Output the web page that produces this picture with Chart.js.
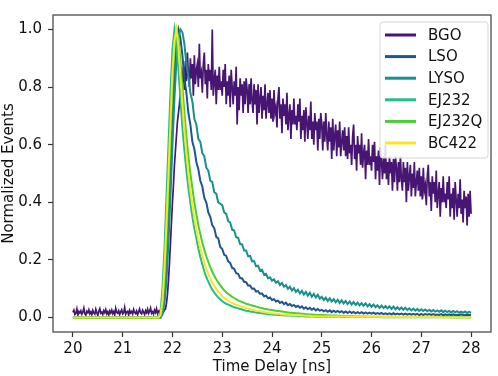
<!DOCTYPE html>
<html>
<head>
<meta charset="utf-8">
<script src="https://cdn.jsdelivr.net/npm/chart.js@4.4.1/dist/chart.umd.min.js"></script>
<style>
  html, body { margin: 0; padding: 0; background: #fff; }
  #wrap { width: 498px; height: 376px; }
</style>
</head>
<body>
<div id="wrap"><canvas id="decayChart"></canvas></div>
<script>
// time axes: 20 ns to 28 ns. BGO is sampled every 0.02 ns, the others every 0.04 ns
const times = Array.from({ length: 201 }, (_, i) => +(20 + i * 0.04).toFixed(2));
const bgoTimes = Array.from({ length: 401 }, (_, i) => +(20 + i * 0.02).toFixed(2));

const xTicks = [20, 21, 22, 23, 24, 25, 26, 27, 28];
const yTicks = [0, 0.2, 0.4, 0.6, 0.8, 1.0];

const labels = ['BGO', 'LSO', 'LYSO', 'EJ232', 'EJ232Q', 'BC422'];
const colors = ['#471672', '#1f5591', '#18908e', '#1fbf8a', '#45d035', '#fde41c'];

const bgo = [
  // 20.00 - 21.84 baseline
  .018,.026,.011,.015,.03,.009,.021,.016,.024,.012,.019,.033,.014,.008,.022,.017,.027,.013,.02,.01,
  .025,.016,.012,.029,.018,.007,.022,.031,.015,.019,.011,.024,.017,.028,.013,.02,.009,.023,.016,.026,
  .014,.021,.01,.032,.018,.015,.024,.011,.02,.027,.013,.017,.035,.012,.019,.022,.009,.025,.016,.021,
  .012,.028,.018,.014,.023,.01,.02,.03,.016,.013,.026,.019,.011,.024,.017,.029,.014,.021,.033,.015,
  .02,.012,.026,.018,.031,.014,.022,.017,.028,.013,.024,.019,.027,
  // 21.86 - 22.20 rise
  .03,.05,.08,.13,.19,.26,.33,.40,.46,.53,.58,.63,.68,.71,.74,.79,.76,.83,
  // 22.22 - 22.48
  .87,.79,.89,.82,.92,.84,.80,.90,.83,.88,.77,.91,.81,.86,
  // 22.50 - 22.98
  .88,.80,.95,.83,.85,.78,.88,.92,.81,.86,.76,.88,.82,.86,.79,1.00,.77,.82,.86,.74,.84,.79,.87,.79,.82,
  // 23.00 - 23.48
  .77,.86,.80,.88,.74,.82,.77,.84,.73,.86,.80,.74,.82,.77,.87,.67,.80,.72,.83,.77,.81,.71,.82,.74,.83,
  // 23.50 - 23.98
  .79,.71,.81,.74,.83,.75,.71,.81,.74,.79,.67,.81,.71,.76,.80,.69,.77,.72,.81,.69,.74,.78,.71,.79,.69,
  // 24.00 - 24.48
  .76,.68,.79,.71,.73,.66,.76,.80,.69,.74,.64,.76,.70,.74,.67,.78,.65,.70,.74,.62,.72,.67,.76,.67,.70,
  // 24.50 - 24.98
  .65,.74,.68,.76,.62,.70,.65,.72,.61,.73,.68,.62,.70,.65,.75,.62,.68,.60,.71,.65,.68,.58,.69,.62,.71,
  // 25.00 - 25.48
  .67,.58,.68,.61,.71,.63,.58,.68,.61,.66,.55,.69,.58,.63,.67,.56,.65,.59,.68,.56,.61,.65,.58,.66,.56,
  // 25.50 - 25.98
  .63,.55,.66,.57,.60,.53,.63,.67,.55,.60,.51,.63,.57,.60,.53,.64,.52,.57,.60,.48,.58,.53,.62,.53,.56,
  // 26.00 - 26.48
  .51,.60,.54,.61,.48,.56,.51,.58,.46,.59,.54,.48,.56,.50,.60,.48,.54,.46,.56,.50,.54,.44,.55,.47,.56,
  // 26.50 - 26.98
  .52,.44,.54,.47,.56,.48,.44,.54,.47,.52,.40,.54,.44,.49,.53,.42,.50,.45,.54,.42,.47,.51,.44,.52,.42,
  // 27.00 - 27.48
  .49,.41,.52,.44,.46,.39,.49,.53,.42,.47,.37,.49,.43,.47,.40,.51,.38,.43,.47,.35,.45,.40,.49,.40,.43,
  // 27.50 - 28.00
  .38,.47,.41,.49,.35,.43,.38,.45,.34,.47,.41,.35,.43,.38,.48,.36,.41,.33,.44,.38,.42,.32,.43,.35,.44,.36
];

const lso = [
  0,0,0,0,0,0,0,0,0,0,0,0,0,0,0,0,0,0,0,0,0,0,0,0,0,
  0,0,0,0,0,0,0,0,0,0,0,0,0,0,0,0,0,0,0,0,0.02,0.08,0.19,0.34,0.52,
  0.70,0.85,0.96,1.00,0.97,0.91,0.83,0.78,0.71,0.67,0.61,0.585,0.54,0.515,0.475,0.455,0.415,0.40,0.365,0.35,0.32,0.31,0.28,0.275,0.245,
  0.238,0.218,0.214,0.195,0.19,0.172,0.169,0.154,0.152,0.137,0.136,0.124,0.123,0.111,0.111,0.10,0.101,0.09,0.092,0.082,0.084,0.074,0.076,0.067,0.07,
  0.061,0.064,0.056,0.059,0.051,0.055,0.047,0.052,0.043,0.047,0.04,0.044,0.037,0.041,0.034,0.039,0.031,0.036,0.029,0.034,0.027,0.032,0.025,0.03,0.024,
  0.027,0.022,0.026,0.02,0.025,0.019,0.024,0.019,0.023,0.018,0.022,0.017,0.021,0.016,0.021,0.016,0.02,0.015,0.019,0.015,0.019,0.014,0.018,0.014,0.017,
  0.014,0.017,0.013,0.016,0.013,0.016,0.012,0.015,0.012,0.015,0.011,0.015,0.011,0.014,0.011,0.014,0.01,0.014,0.01,0.013,0.01,0.013,0.01,0.013,0.009,
  0.013,0.009,0.012,0.01,0.012,0.009,0.012,0.009,0.011,0.009,0.012,0.008,0.011,0.009,0.011,0.008,0.011,0.009,0.01,0.008,0.011,0.008,0.01,0.009,0.01,
  0.009
];

const lyso = [
  0,0,0,0,0,0,0,0,0,0,0,0,0,0,0,0,0,0,0,0,0,0,0,0,0,
  0,0,0,0,0,0,0,0,0,0,0,0,0,0,0,0,0,0,0,0,0.01,0.05,0.13,0.26,0.42,
  0.60,0.76,0.89,0.97,1.00,0.99,0.95,0.88,0.84,0.78,0.75,0.69,0.67,0.62,0.61,0.57,0.56,0.52,0.51,0.475,0.47,0.435,0.43,0.40,0.395,
  0.39,0.365,0.36,0.335,0.33,0.305,0.302,0.279,0.277,0.255,0.254,0.233,0.233,0.213,0.214,0.195,0.196,0.178,0.18,0.163,0.166,0.149,0.152,0.136,0.14,
  0.128,0.133,0.121,0.126,0.113,0.12,0.107,0.113,0.10,0.107,0.094,0.102,0.089,0.097,0.084,0.093,0.08,0.089,0.076,0.086,0.072,0.082,0.07,0.079,0.066,
  0.072,0.061,0.069,0.058,0.067,0.056,0.064,0.053,0.062,0.051,0.06,0.049,0.058,0.047,0.056,0.045,0.054,0.044,0.052,0.042,0.05,0.041,0.049,0.039,0.047,
  0.037,0.045,0.036,0.043,0.034,0.042,0.033,0.04,0.032,0.039,0.03,0.038,0.029,0.036,0.028,0.035,0.027,0.034,0.026,0.032,0.025,0.031,0.024,0.03,0.023,
  0.029,0.023,0.028,0.022,0.027,0.021,0.026,0.021,0.025,0.02,0.025,0.019,0.024,0.019,0.023,0.018,0.023,0.018,0.022,0.017,0.021,0.017,0.021,0.016,0.02,
  0.017
];

const ej232 = [
  0,0,0,0,0,0,0,0,0,0,0,0,0,0,0,0,0,0,0,0,0,0,0,0,0,
  0,0,0,0,0,0,0,0,0,0,0,0,0,0,0,0,0,0,0,0.02,0.10,0.24,0.42,0.60,0.78,
  0.93,1.00,0.95,0.86,0.76,0.66,0.58,0.51,0.45,0.40,0.35,0.31,0.275,0.24,0.21,0.185,0.16,0.14,0.125,0.11,0.097,0.087,0.078,0.07,0.063,
  0.057,0.052,0.048,0.045,0.042,0.039,0.036,0.034,0.032,0.030,0.028,0.026,0.024,0.023,0.021,0.020,0.019,0.018,0.017,0.016,0.015,0.014,0.013,0.012,0.012,
  0.011,0.010,0.010,0.009,0.009,0.008,0.008,0.007,0.007,0.007,0.006,0.006,0.006,0.005,0.005,0.005,0.005,0.004,0.004,0.004,0.004,0.004,0.003,0.003,0.003,
  0.003,0.003,0.003,0.003,0.003,0.003,0.003,0.003,0.003,0.003,0.002,0.002,0.002,0.002,0.002,0.002,0.002,0.002,0.002,0.002,0.002,0.002,0.002,0.002,0.002,
  0.002,0.002,0.002,0.002,0.002,0.001,0.001,0.001,0.001,0.001,0.001,0.001,0.001,0.001,0.001,0.001,0.001,0.001,0.001,0.001,0.001,0.001,0.001,0.001,0.001,
  0.001,0.001,0.001,0.001,0.001,0.001,0.001,0.001,0.001,0.001,0.001,0.001,0.001,0.001,0.001,0.001,0.001,0.001,0.001,0.001,0.001,0.001,0.001,0.001,0.001,
  0.001
];

const ej232q = [
  0,0,0,0,0,0,0,0,0,0,0,0,0,0,0,0,0,0,0,0,0,0,0,0,0,
  0,0,0,0,0,0,0,0,0,0,0,0,0,0,0,0,0,0,0,0.005,0.04,0.13,0.27,0.44,0.62,
  0.80,0.93,1.00,0.97,0.89,0.80,0.71,0.63,0.56,0.50,0.45,0.40,0.36,0.32,0.29,0.26,0.235,0.213,0.193,0.175,0.159,0.145,0.133,0.122,0.112,
  0.103,0.095,0.088,0.082,0.077,0.072,0.068,0.064,0.060,0.057,0.054,0.051,0.048,0.046,0.044,0.042,0.040,0.038,0.036,0.034,0.033,0.031,0.030,0.028,0.027,
  0.026,0.025,0.024,0.023,0.022,0.021,0.020,0.019,0.018,0.017,0.017,0.016,0.015,0.015,0.014,0.013,0.013,0.012,0.012,0.011,0.011,0.010,0.010,0.009,0.009,
  0.009,0.008,0.008,0.008,0.007,0.007,0.007,0.007,0.006,0.006,0.006,0.006,0.005,0.005,0.005,0.005,0.005,0.004,0.004,0.004,0.004,0.004,0.004,0.003,0.003,
  0.003,0.003,0.003,0.003,0.003,0.003,0.003,0.003,0.003,0.003,0.003,0.003,0.002,0.002,0.002,0.002,0.002,0.002,0.002,0.002,0.002,0.002,0.002,0.002,0.002,
  0.002,0.002,0.002,0.002,0.002,0.002,0.002,0.002,0.002,0.002,0.002,0.002,0.002,0.002,0.002,0.001,0.001,0.001,0.001,0.001,0.001,0.001,0.001,0.001,0.001,
  0.001
];

const bc422 = [
  0,0,0,0,0,0,0,0,0,0,0,0,0,0,0,0,0,0,0,0,0,0,0,0,0,
  0,0,0,0,0,0,0,0,0,0,0,0,0,0,0,0,0,0,0,0.01,0.06,0.17,0.33,0.50,0.68,
  0.85,0.96,1.00,0.94,0.84,0.74,0.65,0.57,0.50,0.44,0.39,0.345,0.305,0.27,0.24,0.215,0.19,0.17,0.152,0.136,0.122,0.11,0.099,0.09,0.082,
  0.075,0.069,0.064,0.059,0.055,0.051,0.048,0.045,0.042,0.040,0.037,0.035,0.033,0.031,0.029,0.027,0.026,0.024,0.023,0.022,0.020,0.019,0.018,0.017,0.016,
  0.015,0.014,0.013,0.013,0.012,0.011,0.011,0.010,0.010,0.009,0.009,0.008,0.008,0.008,0.007,0.007,0.007,0.006,0.006,0.006,0.005,0.005,0.005,0.005,0.004,
  0.004,0.004,0.004,0.004,0.004,0.004,0.004,0.004,0.004,0.004,0.004,0.004,0.004,0.003,0.003,0.003,0.003,0.003,0.003,0.003,0.003,0.003,0.003,0.003,0.003,
  0.003,0.003,0.003,0.003,0.003,0.002,0.002,0.002,0.002,0.002,0.002,0.002,0.002,0.002,0.002,0.002,0.002,0.002,0.002,0.002,0.002,0.002,0.002,0.002,0.002,
  0.002,0.002,0.002,0.002,0.002,0.002,0.002,0.002,0.002,0.002,0.001,0.001,0.001,0.001,0.001,0.001,0.001,0.001,0.001,0.001,0.001,0.001,0.001,0.001,0.001,
  0.001
];

const series = [bgo, lso, lyso, ej232, ej232q, bc422];
const seriesTimes = [bgoTimes, times, times, times, times, times];
series.forEach((s, k) => {
  if (s.length !== seriesTimes[k].length) throw new Error(labels[k] + ' has ' + s.length + ' values');
});

const FONT = "'DejaVu Sans', Verdana, sans-serif";

// box around the plot area (matplotlib style spines)
const frame = {
  id: 'frame',
  afterDatasetsDraw(chart) {
    const { ctx, chartArea: a } = chart;
    ctx.save();
    ctx.strokeStyle = '#4d4d4d';
    ctx.lineWidth = 1.3;
    ctx.strokeRect(a.left, a.top, a.right - a.left, a.bottom - a.top);
    ctx.restore();
  }
};

// legend drawn inside the axes, top right
const insideLegend = {
  id: 'insideLegend',
  afterDraw(chart) {
    const { ctx, chartArea: a } = chart;
    const w = 108, h = 136;
    const x = a.right - w - 3, y = a.top + 7;
    ctx.save();
    ctx.beginPath();
    ctx.roundRect(x, y, w, h, 3);
    ctx.fillStyle = 'rgba(255,255,255,0.85)';
    ctx.fill();
    ctx.strokeStyle = '#d6d6d6';
    ctx.lineWidth = 1;
    ctx.stroke();
    ctx.font = '15px ' + FONT;
    ctx.textBaseline = 'middle';
    chart.data.datasets.forEach((ds, k) => {
      const cy = y + 13 + k * 21.6;
      ctx.strokeStyle = ds.borderColor;
      ctx.lineWidth = 3;
      ctx.beginPath();
      ctx.moveTo(x + 5, cy);
      ctx.lineTo(x + 36, cy);
      ctx.stroke();
      ctx.fillStyle = '#111';
      ctx.fillText(ds.label, x + 48, cy + 1);
    });
    ctx.restore();
  }
};

const datasets = series.map((vals, k) => ({
  label: labels[k],
  data: seriesTimes[k].map((t, i) => ({ x: t, y: vals[i] })),
  borderColor: colors[k],
  backgroundColor: colors[k],
  borderWidth: k === 0 ? 1.7 : 2,
  pointRadius: 0,
  tension: 0,
  fill: false,
  order: series.length - k
}));

const ctx = document.getElementById('decayChart').getContext('2d');
new Chart(ctx, {
  type: 'line',
  data: { datasets },
  options: {
    responsive: true,
    maintainAspectRatio: false,
    animation: false,
    events: [],
    layout: { padding: { top: 2, right: 7, left: 0, bottom: 0 } },
    plugins: { legend: { display: false }, tooltip: { enabled: false } },
    scales: {
      x: {
        type: 'linear',
        min: 19.6,
        max: 28.4,
        afterBuildTicks: s => { s.ticks = xTicks.map(v => ({ value: v })); },
        afterFit: s => { s.height = 44; },
        grid: { drawOnChartArea: false, drawTicks: true, tickLength: 5, tickColor: '#333', tickWidth: 1.2 },
        border: { display: false },
        ticks: { color: '#111', font: { family: FONT, size: 15 }, padding: 3, maxRotation: 0, callback: v => String(v) },
        title: { display: true, text: 'Time Delay [ns]', color: '#111', font: { family: FONT, size: 15 }, padding: { top: 0, bottom: 0 } }
      },
      y: {
        type: 'linear',
        min: -0.05,
        max: 1.05,
        afterBuildTicks: s => { s.ticks = yTicks.map(v => ({ value: v })); },
        afterFit: s => { s.width = 53; },
        grid: { drawOnChartArea: false, drawTicks: true, tickLength: 5, tickColor: '#333', tickWidth: 1.2 },
        border: { display: false },
        ticks: { color: '#111', font: { family: FONT, size: 15 }, padding: 6, callback: v => v.toFixed(1) },
        title: { display: true, text: 'Normalized Events', color: '#111', font: { family: FONT, size: 15 }, padding: { top: 0, bottom: 0 } }
      }
    }
  },
  plugins: [frame, insideLegend]
});
</script>
</body>
</html>
